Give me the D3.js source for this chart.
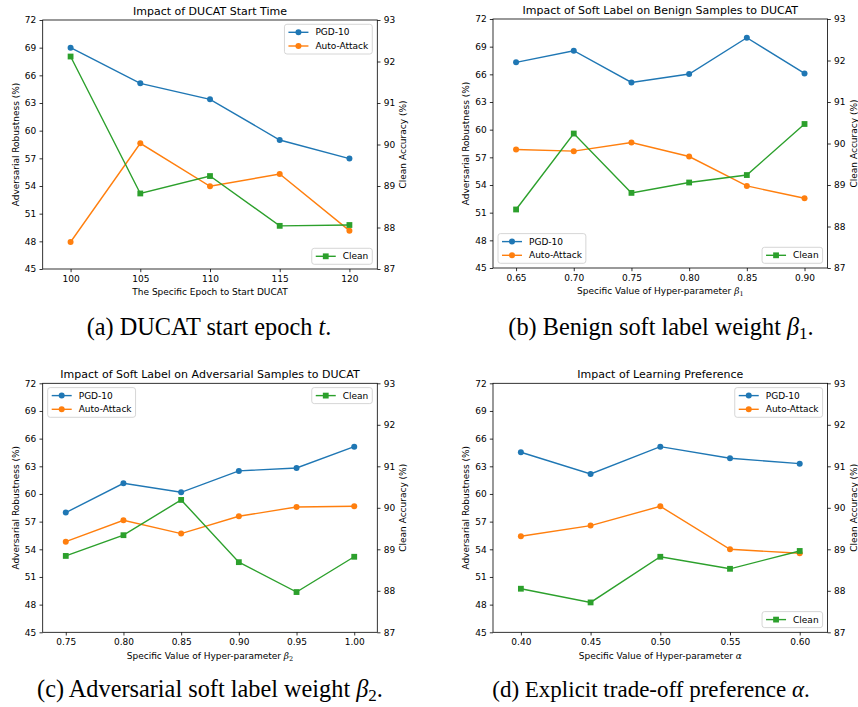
<!DOCTYPE html>
<html>
<head>
<meta charset="utf-8">
<script src="https://cdn.jsdelivr.net/npm/d3@7"></script>
<style>
  body { margin: 0; background: #fff; }
  text { font-family: "DejaVu Sans", sans-serif; fill: #000; }
  .cap { font-family: "Liberation Serif", serif; }
</style>
</head>
<body>
<div id="viz"></div>
<script>
// ---- data ----
const epochA = [100, 105, 110, 115, 120];
const pgdA   = [69.0, 65.13, 63.4, 58.99, 56.97];
const autoA  = [47.93, 58.63, 53.97, 55.3, 49.16];
const cleanA = [92.12, 88.82, 89.24, 88.04, 88.06];

const beta1B = [0.65, 0.70, 0.75, 0.80, 0.85, 0.90];
const pgdB   = [67.3, 68.56, 65.12, 66.03, 69.97, 66.1];
const autoB  = [57.85, 57.67, 58.61, 57.09, 53.9, 52.56];
const cleanB = [88.41, 90.24, 88.81, 89.06, 89.24, 90.47];

const beta2C = [0.75, 0.80, 0.85, 0.90, 0.95, 1.00];
const pgdC   = [57.98, 61.16, 60.18, 62.5, 62.82, 65.13];
const autoC  = [54.83, 57.15, 55.7, 57.58, 58.59, 58.66];
const cleanC = [88.84, 89.34, 90.19, 88.69, 87.97, 88.82];

const alphaD = [0.40, 0.45, 0.50, 0.55, 0.60];
const pgdD   = [64.52, 62.17, 65.13, 63.87, 63.29];
const autoD  = [55.41, 56.57, 58.66, 54.0, 53.57];
const cleanD = [88.05, 87.72, 88.82, 88.53, 88.96];

const leftTicks  = [45, 48, 51, 54, 57, 60, 63, 66, 69, 72];
const rightTicks = [87, 88, 89, 90, 91, 92, 93];

const blue = '#1f77b4', orange = '#ff7f0e', green = '#2ca02c';

const width = 858, height = 707;
const pw = 334.6, ph = 249, fs = 9;

const svg = d3.select('#viz')
    .append('svg')
    .attr('width', width)
    .attr('height', height);

function drawLegend(g, items, where) {
    const rowH = 13.7, padY = 8, lg = g.append('g');
    const box = lg.append('rect')
        .attr('rx', 2.5)
        .attr('fill', 'white')
        .attr('fill-opacity', 0.8)
        .attr('stroke', '#cccccc')
        .attr('stroke-width', 0.8);
    let maxW = 0;
    items.forEach((it, i) => {
        const cy = padY + i * rowH;
        lg.append('line')
            .attr('x1', 4).attr('x2', 24)
            .attr('y1', cy).attr('y2', cy)
            .attr('stroke', it.color).attr('stroke-width', 1.4);
        drawMarker(lg, 14, cy, it.shape, it.color);
        const t = lg.append('text')
            .attr('x', 31).attr('y', cy)
            .attr('dy', '0.35em')
            .style('font-size', fs + 'px')
            .text(it.label);
        maxW = Math.max(maxW, t.node().getComputedTextLength());
    });
    const bw = 31 + maxW + 4, bh = padY * 2 + (items.length - 1) * rowH;
    box.attr('width', bw).attr('height', bh);
    const lx = where[1] === 'r' ? pw - 5 - bw : 5;
    const ly = where[0] === 'u' ? 4.3 : ph - 4.7 - bh;
    lg.attr('transform', `translate(${lx},${ly})`);
}

function drawMarker(g, cx, cy, shape, color) {
    if (shape === 'circle') {
        g.append('circle').attr('cx', cx).attr('cy', cy).attr('r', 3)
            .attr('fill', color);
    } else {
        g.append('rect').attr('x', cx - 2.9).attr('y', cy - 2.9)
            .attr('width', 5.8).attr('height', 5.8)
            .attr('fill', color);
    }
}

function panel(o) {
    const g = svg.append('g').attr('transform', `translate(${o.left},${o.top})`);

    const x = d3.scaleLinear().domain(o.xlim).range([0, pw]);
    const yL = d3.scaleLinear().domain([45, 72]).range([ph, 0]);
    const yR = d3.scaleLinear().domain([87, 93]).range([ph, 0]);

    const xAxis = g.append('g')
        .attr('transform', `translate(0,${ph})`)
        .call(d3.axisBottom(x).tickValues(o.xs).tickFormat(o.fmt)
            .tickSize(3.2).tickPadding(3.2).tickSizeOuter(0));
    const lAxis = g.append('g')
        .call(d3.axisLeft(yL).tickValues(leftTicks).tickFormat(d3.format('d'))
            .tickSize(3.2).tickPadding(3.2).tickSizeOuter(0));
    const rAxis = g.append('g')
        .attr('transform', `translate(${pw},0)`)
        .call(d3.axisRight(yR).tickValues(rightTicks).tickFormat(d3.format('d'))
            .tickSize(3.2).tickPadding(3.2).tickSizeOuter(0));
    [xAxis, lAxis, rAxis].forEach(a => {
        a.select('.domain').remove();
        a.selectAll('.tick line').attr('stroke', '#000').attr('stroke-width', 0.8);
        a.selectAll('.tick text')
            .style('font-size', fs + 'px')
            .style('font-family', '"DejaVu Sans", sans-serif')
            .attr('fill', '#000');
    });

    const line = (ys, sc) => d3.line()
        .x((d, i) => x(o.xs[i]))
        .y(d => sc(d))(ys);

    const series = [
        { vals: o.pgd, color: blue, shape: 'circle', sc: yL },
        { vals: o.auto, color: orange, shape: 'circle', sc: yL }
    ];
    series.forEach(s => {
        g.append('path').attr('d', line(s.vals, s.sc))
            .attr('fill', 'none').attr('stroke', s.color).attr('stroke-width', 1.4);
        s.vals.forEach((v, i) => drawMarker(g, x(o.xs[i]), s.sc(v), s.shape, s.color));
    });
    drawLegend(g, [
        { label: 'PGD-10', color: blue, shape: 'circle' },
        { label: 'Auto-Attack', color: orange, shape: 'circle' }
    ], o.leg1);

    g.append('path').attr('d', line(o.clean, yR))
        .attr('fill', 'none').attr('stroke', green).attr('stroke-width', 1.4);
    o.clean.forEach((v, i) => drawMarker(g, x(o.xs[i]), yR(v), 'square', green));
    drawLegend(g, [{ label: 'Clean', color: green, shape: 'square' }], o.leg2);

    g.append('rect')
        .attr('width', pw).attr('height', ph)
        .attr('fill', 'none').attr('stroke', '#000').attr('stroke-width', 0.8);

    g.append('text')
        .attr('x', pw / 2).attr('y', -5)
        .attr('text-anchor', 'middle')
        .style('font-size', '11px')
        .text(o.title);

    const xl = g.append('text')
        .attr('x', pw / 2).attr('y', ph + 23.3)
        .attr('dy', '0.35em')
        .attr('text-anchor', 'middle')
        .style('font-size', fs + 'px')
        .text(o.xlabel);
    if (o.sym) {
        xl.append('tspan').text(' ');
        xl.append('tspan').style('font-style', 'italic')
            .style('font-family', '"DejaVu Serif", serif').text(o.sym);
        if (o.sub) {
            xl.append('tspan').attr('dy', 2).style('font-size', '6.5px')
                .style('font-family', '"DejaVu Serif", serif').text(o.sub);
        }
    }

    g.append('text')
        .attr('transform', `translate(-27,${ph / 2}) rotate(-90)`)
        .attr('dy', '0.35em')
        .attr('text-anchor', 'middle')
        .style('font-size', fs + 'px')
        .text('Adversarial Robustness (%)');
    g.append('text')
        .attr('transform', `translate(${pw + 26},${ph / 2}) rotate(-90)`)
        .attr('dy', '0.35em')
        .attr('text-anchor', 'middle')
        .style('font-size', fs + 'px')
        .text('Clean Accuracy (%)');

    const cap = svg.append('text')
        .attr('class', 'cap')
        .attr('x', o.capX).attr('y', o.capY)
        .attr('text-anchor', 'middle')
        .style('font-size', o.capSize + 'px')
        .text(o.cap[0]);
    cap.append('tspan').style('font-style', 'italic').text(o.cap[1]);
    if (o.cap[2]) cap.append('tspan').attr('dy', 4).style('font-size', '17px').text(o.cap[2]);
    cap.append('tspan').attr('dy', o.cap[2] ? -4 : 0).text('.');
}

const f2 = d3.format('.2f');

panel({
    left: 42.7, top: 20, xs: epochA, xlim: [98, 122], fmt: d3.format('d'),
    pgd: pgdA, auto: autoA, clean: cleanA, leg1: 'ur', leg2: 'lr',
    title: 'Impact of DUCAT Start Time',
    xlabel: 'The Specific Epoch to Start DUCAT',
    cap: ['(a) DUCAT start epoch ', 't', ''], capX: 209, capY: 335, capSize: 24.3
});
panel({
    left: 493, top: 19, xs: beta1B, xlim: [0.63, 0.92], fmt: f2,
    pgd: pgdB, auto: autoB, clean: cleanB, leg1: 'll', leg2: 'lr',
    title: 'Impact of Soft Label on Benign Samples to DUCAT',
    xlabel: 'Specific Value of Hyper-parameter', sym: 'β', sub: '1',
    cap: ['(b) Benign soft label weight ', 'β', '1'], capX: 661, capY: 335, capSize: 24.3
});
panel({
    left: 42.7, top: 383.3, xs: beta2C, xlim: [0.73, 1.02], fmt: f2,
    pgd: pgdC, auto: autoC, clean: cleanC, leg1: 'ul', leg2: 'ur',
    title: 'Impact of Soft Label on Adversarial Samples to DUCAT',
    xlabel: 'Specific Value of Hyper-parameter', sym: 'β', sub: '2',
    cap: ['(c) Adversarial soft label weight ', 'β', '2'], capX: 210, capY: 697, capSize: 24.3
});
panel({
    left: 493, top: 383.3, xs: alphaD, xlim: [0.38, 0.62], fmt: f2,
    pgd: pgdD, auto: autoD, clean: cleanD, leg1: 'ur', leg2: 'lr',
    title: 'Impact of Learning Preference',
    xlabel: 'Specific Value of Hyper-parameter', sym: 'α',
    cap: ['(d) Explicit trade-off preference ', 'α', ''], capX: 651, capY: 697, capSize: 23
});
</script>
</body>
</html>
